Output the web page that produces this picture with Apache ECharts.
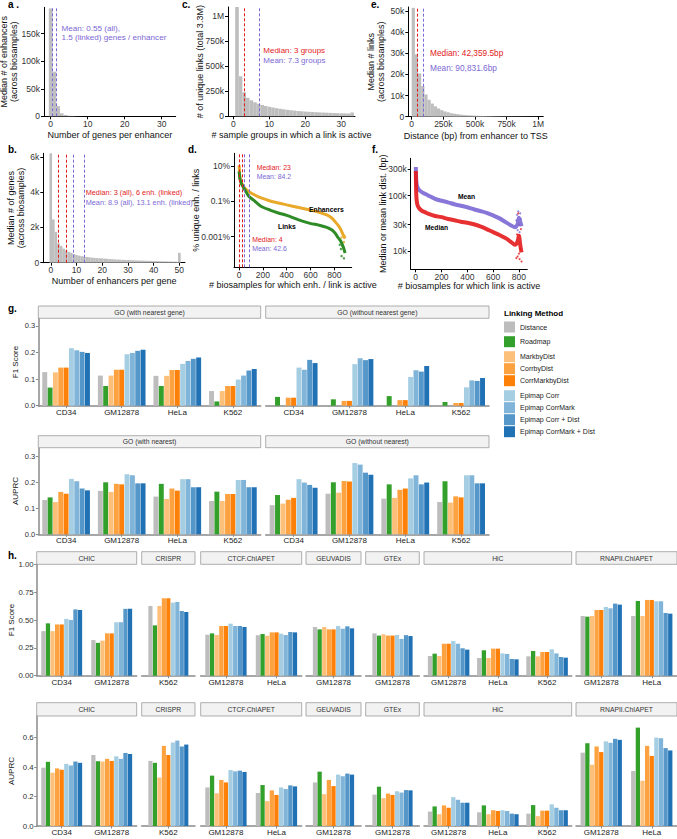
<!DOCTYPE html>
<html>
<head>
<meta charset="utf-8">
<script src="https://cdn.jsdelivr.net/npm/echarts@6/dist/echarts.min.js"></script>
<style>
  html, body { margin: 0; padding: 0; background: #fff; }
  #chart { width: 677px; height: 839px; }
</style>
</head>
<body>
<div id="chart"></div>
<script>
// ---------------- data: panels a-f ----------------
// a: number of genes per enhancer = index
const aEnhancers = [196000, 81000, 18500, 5400, 2400, 1000, 450, 200, 100, 50];
const aMeanLines = [0.55, 1.5];
// b: number of enhancers per gene = index (0..50)
const bGenes = [6200, 2450, 1750, 1100, 950, 800, 700, 620, 555, 490, 435, 400, 370, 345, 325, 305, 288, 273, 260, 252,
  245, 232, 220, 208, 197, 187, 178, 170, 162, 155, 150, 143, 137, 131, 126, 121, 116, 111, 106, 100,
  95, 90, 85, 80, 76, 72, 68, 64, 60, 56, 560];
const bMedianLines = [3, 6];
const bMeanLines = [8.9, 13.1];
// c: sample groups = index + 1
const cLinks = [1150000, 400000, 240000, 185000, 160000, 140000, 125000, 113000, 103000, 95000, 88000, 81000, 75000,
  70000, 65000, 61000, 57000, 53000, 50000, 47000, 45000, 43000, 41000, 39000, 37000, 36000, 34000, 33000, 31000,
  30000, 29000, 28000, 38000];
const cMedian = 3, cMean = 7.3;
// e: distance bins (bp) and median # links
const eDistance = [12500, 37500, 62500, 87500, 112500, 137500, 162500, 187500, 212500, 237500, 262500, 287500, 312500,
  337500, 362500, 387500, 412500, 437500, 462500, 487500, 512500, 537500, 562500, 587500, 612500, 637500, 662500,
  687500, 712500, 737500, 762500, 787500, 812500, 837500, 862500, 887500, 912500, 937500, 962500, 987500];
const eLinks = [51500, 29500, 20500, 14500, 10500, 8000, 6200, 4900, 3900, 3100, 2500, 2100, 1700, 1400, 1200, 1000,
  850, 720, 620, 530, 460, 400, 350, 300, 260, 230, 200, 180, 160, 140, 120, 110, 100, 90, 80, 70, 60, 60, 50, 50];
const eMedian = 42359.5, eMean = 90831.6;
// d: # biosamples vs % unique
const dEnhancers = [[1, 11], [3, 6], [6, 3], [10, 2], [20, 1.1], [35, 0.75], [50, 0.55], [80, 0.36], [120, 0.25],
  [180, 0.16], [260, 0.105], [330, 0.08], [400, 0.063], [500, 0.045], [596, 0.032], [670, 0.024], [736, 0.017],
  [780, 0.011], [806, 0.007], [830, 0.0045], [850, 0.0028], [862, 0.0019], [875, 0.0012], [890, 0.0008]];
const dLinks = [[1, 5], [3, 3.5], [6, 2.2], [10, 1.6], [20, 1.0], [35, 0.65], [50, 0.44], [80, 0.2], [120, 0.12],
  [180, 0.055], [260, 0.032], [330, 0.022], [400, 0.016], [500, 0.009], [596, 0.0057], [670, 0.0045], [736, 0.0034],
  [780, 0.0024], [806, 0.0016], [830, 0.0009], [850, 0.0006], [862, 0.00042], [875, 0.00025], [890, 0.00012]];
const dLinkTail = [[845, 0.00035], [855, 0.0002], [860, 0.00008], [870, 0.0003], [880, 0.00006], [885, 0.00015]];
const dEnhTail = [[860, 0.0009], [870, 0.0015], [880, 0.0005], [885, 0.0011]];
const dEnhMedian = 23, dEnhMean = 84.2, dLinkMedian = 4, dLinkMean = 42.6;
// f: # biosamples vs link distance (bp)
const fMean = [[1, 330000], [3, 220000], [6, 170000], [12, 145000], [25, 128000], [50, 115000], [75, 107000],
  [100, 100000], [150, 88000], [200, 81000], [250, 76000], [300, 70000], [350, 66000], [400, 62000], [450, 57000],
  [500, 53000], [550, 49000], [600, 44000], [650, 39000], [700, 33000], [740, 29000], [770, 27000], [790, 31000],
  [800, 40000], [810, 34000], [820, 28000]];
const fMedian = [[1, 280000], [3, 130000], [6, 90000], [12, 70000], [25, 60000], [50, 53000], [75, 50000],
  [100, 47000], [150, 43000], [200, 41000], [250, 38000], [300, 36000], [350, 34000], [400, 32500], [450, 30500],
  [500, 28000], [550, 25000], [600, 22000], [650, 19500], [700, 17000], [740, 14500], [770, 13000], [790, 15000],
  [800, 19000], [810, 13000], [820, 9500]];
const fMeanTail = [[780, 36000], [785, 45000], [790, 24000], [795, 52000], [800, 30000], [805, 22000], [810, 48000], [815, 38000]];
const fMedianTail = [[780, 7500], [785, 20000], [790, 8000], [795, 48000], [800, 9000], [800, 30000], [805, 7200],
  [810, 11000], [815, 25000], [820, 6500]];

// ---------------- data: panels g-h ----------------
const methods = ['Distance', 'Roadmap', 'MarkbyDist', 'CorrbyDist', 'CorrMarkbyDist',
  'Epimap Corr', 'Epimap CorrMark', 'Epimap Corr + Dist', 'Epimap CorrMark + Dist'];
const goCells = ['CD34', 'GM12878', 'HeLa', 'K562'];
// rows = cell lines, columns = methods
const goF1WithNearest = [
  [0.126, 0.068, 0.125, 0.143, 0.143, 0.216, 0.208, 0.202, 0.198],
  [0.113, 0.074, 0.113, 0.135, 0.135, 0.193, 0.198, 0.206, 0.210],
  [0.112, 0.074, 0.112, 0.134, 0.134, 0.157, 0.168, 0.176, 0.181],
  [0.055, 0.016, 0.055, 0.074, 0.074, 0.098, 0.113, 0.132, 0.138]];
const goF1WithoutNearest = [
  [null, 0.033, null, 0.030, 0.030, 0.143, 0.135, 0.172, 0.160],
  [null, 0.024, null, 0.018, 0.018, 0.156, 0.178, 0.171, 0.175],
  [null, 0.036, null, 0.021, 0.021, 0.108, 0.133, 0.128, 0.149],
  [null, 0.014, null, 0.010, 0.010, 0.069, 0.095, 0.093, 0.104]];
const goAuprcWithNearest = [
  [0.132, 0.142, 0.124, 0.163, 0.156, 0.213, 0.204, 0.176, 0.169],
  [0.167, 0.200, 0.163, 0.194, 0.192, 0.231, 0.227, 0.196, 0.196],
  [0.145, 0.194, 0.136, 0.176, 0.168, 0.212, 0.212, 0.181, 0.181],
  [0.128, 0.164, 0.128, 0.155, 0.155, 0.209, 0.209, 0.181, 0.181]];
const goAuprcWithoutNearest = [
  [0.112, 0.151, 0.118, 0.133, 0.140, 0.212, 0.199, 0.190, 0.179],
  [0.156, 0.200, 0.160, 0.205, 0.203, 0.274, 0.268, 0.237, 0.229],
  [0.137, 0.192, 0.140, 0.171, 0.176, 0.215, 0.227, 0.192, 0.199],
  [0.124, 0.204, 0.122, 0.146, 0.142, 0.227, 0.227, 0.196, 0.196]];

const hSets = ['CHIC', 'CRISPR', 'CTCF.ChIAPET', 'GEUVADIS', 'GTEx', 'HiC', 'RNAPII.ChIAPET'];
const hCells = [['CD34', 'GM12878'], ['K562'], ['GM12878', 'HeLa'], ['GM12878'], ['GM12878'],
  ['GM12878', 'HeLa', 'K562'], ['GM12878', 'HeLa']];
const f1CHIC = [[0.40, 0.47, 0.40, 0.46, 0.46, 0.51, 0.50, 0.595, 0.59], [0.32, 0.295, 0.315, 0.38, 0.38, 0.48, 0.48, 0.60, 0.60]];
const f1CRISPR = [[0.626, 0.452, 0.626, 0.695, 0.695, 0.656, 0.662, 0.581, 0.572]];
const f1CTCF = [[0.368, 0.38, 0.365, 0.446, 0.446, 0.467, 0.446, 0.446, 0.437], [0.362, 0.374, 0.359, 0.389, 0.389, 0.377, 0.365, 0.392, 0.389]];
const f1GEUVADIS = [[0.437, 0.416, 0.437, 0.416, 0.416, 0.446, 0.422, 0.443, 0.425]];
const f1GTEx = [[0.38, 0.36, 0.372, 0.36, 0.36, 0.366, 0.33, 0.364, 0.356]];
const f1HiC = [[0.177, 0.198, 0.177, 0.287, 0.287, 0.311, 0.287, 0.246, 0.234],
  [0.159, 0.228, 0.159, 0.243, 0.243, 0.200, 0.195, 0.150, 0.147],
  [0.174, 0.222, 0.174, 0.213, 0.213, 0.237, 0.200, 0.168, 0.162]];
const f1RNAPII = [[0.536, 0.53, 0.536, 0.59, 0.59, 0.617, 0.605, 0.647, 0.638], [0.536, 0.671, 0.536, 0.68, 0.68, 0.668, 0.668, 0.563, 0.557]];
const auprcCHIC = [[0.396, 0.436, 0.362, 0.391, 0.382, 0.422, 0.411, 0.438, 0.429], [0.482, 0.44, 0.438, 0.456, 0.442, 0.473, 0.456, 0.496, 0.489]];
const auprcCRISPR = [[0.442, 0.429, 0.329, 0.544, 0.482, 0.567, 0.58, 0.54, 0.553]];
const auprcCTCF = [[0.262, 0.342, 0.222, 0.313, 0.296, 0.38, 0.371, 0.376, 0.367], [0.224, 0.278, 0.169, 0.242, 0.211, 0.262, 0.251, 0.276, 0.269]];
const auprcGEUVADIS = [[0.296, 0.369, 0.216, 0.313, 0.271, 0.349, 0.338, 0.356, 0.349]];
const auprcGTEx = [[0.213, 0.267, 0.189, 0.22, 0.211, 0.236, 0.227, 0.244, 0.242]];
const auprcHiC = [[0.098, 0.133, 0.08, 0.14, 0.124, 0.196, 0.178, 0.158, 0.158],
  [0.093, 0.14, 0.08, 0.107, 0.102, 0.107, 0.102, 0.084, 0.08],
  [0.084, 0.142, 0.067, 0.104, 0.104, 0.147, 0.124, 0.107, 0.107]];
const auprcRNAPII = [[0.498, 0.562, 0.416, 0.54, 0.502, 0.575, 0.565, 0.592, 0.585], [0.373, 0.668, 0.307, 0.544, 0.476, 0.60, 0.596, 0.529, 0.513]];

// ---------------- styling ----------------
const FONT = "'Liberation Sans', Arial, Helvetica, sans-serif";
const RED = '#e31a1c', PURPLE = '#7b68d4', GREY = '#bebebe';
const GOLD = '#e9aa2b', GREEN = '#2e8b25';
const methodColors = ['#bdbdbd', '#33a02c', '#fdc07a', '#fca240', '#fd8008', '#a6cee3', '#80b4d8', '#5597c9', '#2171b5'];

const grids = [], xAxis = [], yAxis = [], series = [], graphics = [];

function addGrid(left, top, width, height) {
  grids.push({ left, top, width, height, containLabel: false, outerBoundsMode: 'none' });
  return grids.length - 1;
}

function numAxis(gi, o, isX) {
  return {
    type: o.log ? 'log' : 'value', logBase: 10, gridIndex: gi, min: o.min, max: o.max,
    axisLine: { show: true, onZero: false, lineStyle: { color: '#000', width: 1 } },
    axisTick: { show: true, length: 3, customValues: o.ticks, lineStyle: { color: '#000' } },
    axisLabel: { show: true, customValues: o.ticks, formatter: o.fmt, fontSize: 8.5, color: '#333', fontFamily: FONT, margin: isX ? 3 : 4 },
    splitLine: { show: false },
    name: o.name, nameLocation: 'middle', nameGap: o.gap, nameMoveOverlap: false,
    nameTextStyle: { fontSize: 9, color: '#111', fontFamily: FONT, lineHeight: 10 }
  };
}

function vlines(list) {
  return {
    silent: true, symbol: ['none', 'none'], label: { show: false }, animation: false,
    emphasis: { disabled: true },
    data: list.map(([x, c]) => ({ xAxis: x, lineStyle: { color: c, type: [3, 2], width: 1 } }))
  };
}

function txt(x, y, s, color, size, weight, align) {
  graphics.push({
    type: 'text', x, y, silent: true, z: 50,
    style: { text: s, fill: color || '#000', fontSize: size || 8.5, fontFamily: FONT, fontWeight: weight || 'normal',
      verticalAlign: 'middle', align: align || 'left', lineHeight: (size || 8.5) + 1.8 }
  });
}

const kFmt = v => v === 0 ? '0' : (v >= 1000000 ? (v / 1000000) + 'M' : (v / 1000) + 'k');

function histPanel(box, xs, ys, bw, xo, yo, lines) {
  const gi = addGrid(...box);
  xAxis.push(numAxis(gi, xo, true));
  yAxis.push(numAxis(gi, yo, false));
  series.push({
    type: 'bar', xAxisIndex: gi, yAxisIndex: gi, data: xs.map((x, i) => [x, ys[i]]), barWidth: bw,
    itemStyle: { color: GREY }, clip: true, silent: true, markLine: vlines(lines)
  });
  return gi;
}

// a
histPanel([44, 7.3, 131.7, 109], aEnhancers.map((v, i) => i), aEnhancers, 3.7,
  { min: -1.8, max: 33.8, ticks: [0, 10, 20, 30], name: 'Number of genes per enhancer', gap: 14 },
  { min: 0, max: 198000, ticks: [0, 50000, 100000, 150000], fmt: kFmt, name: 'Median # of enhancers\n(across biosamples)', gap: 25 },
  aMeanLines.map(x => [x, PURPLE]));
// b
histPanel([43.3, 153.3, 141.7, 109.4], bGenes.map((v, i) => i), bGenes, 2.6,
  { min: -2.9, max: 52.2, ticks: [0, 10, 20, 30, 40, 50], name: 'Number of enhancers per gene', gap: 13 },
  { min: 0, max: 6200, ticks: [0, 2000, 4000, 6000], fmt: kFmt, name: 'Median # of genes\n(across biosamples)', gap: 17 },
  bMedianLines.map(x => [x, RED]).concat(bMeanLines.map(x => [x, PURPLE])));
// c
histPanel([228, 7, 127, 109.3], cLinks.map((v, i) => i + 1), cLinks, 3.6,
  { min: -1.5, max: 33.8, ticks: [0, 10, 20, 30], name: '# sample groups in which a link is active', gap: 14 },
  { min: 0, max: 1093000, ticks: [0, 250000, 500000, 750000, 1000000], fmt: kFmt, name: '# of unique links (total 3.3M)', gap: 23 },
  [[cMedian, RED], [cMean, PURPLE]]);
// e
histPanel([408.3, 7, 135, 109.7], eDistance, eLinks, 3.2,
  { min: -27000, max: 1040000, ticks: [0, 250000, 500000, 750000, 1000000], fmt: kFmt, name: 'Distance (bp) from enhancer to TSS', gap: 14 },
  { min: 0, max: 51900, ticks: [0, 10000, 20000, 30000, 40000, 50000], fmt: kFmt, name: 'Median # links\n(across biosamples)', gap: 22 },
  [[eMedian, RED], [eMean, PURPLE]]);

// d
{
  const gi = addGrid(234, 153.3, 117.7, 114);
  xAxis.push(numAxis(gi, { min: -42, max: 945, ticks: [0, 200, 400, 600, 800], name: '# biosamples for which enh. / link is active', gap: 13 }, true));
  yAxis.push(numAxis(gi, { log: true, min: 1.86e-5, max: 52, ticks: [0.001, 0.1, 10], fmt: v => v + '%', name: '% unique enh. / links', gap: 33 }, false));
  series.push({ type: 'line', xAxisIndex: gi, yAxisIndex: gi, data: dEnhancers, showSymbol: false, smooth: 0.3, silent: true,
    lineStyle: { color: GOLD, width: 3 }, markLine: vlines([[dEnhMedian, RED], [dEnhMean, PURPLE]]) });
  series.push({ type: 'line', xAxisIndex: gi, yAxisIndex: gi, data: dLinks, showSymbol: false, smooth: 0.3, silent: true,
    lineStyle: { color: GREEN, width: 3 }, markLine: vlines([[dLinkMedian, RED], [dLinkMean, PURPLE]]) });
  series.push({ type: 'scatter', xAxisIndex: gi, yAxisIndex: gi, data: dEnhTail, symbolSize: 2.5, silent: true, itemStyle: { color: GOLD } });
  series.push({ type: 'scatter', xAxisIndex: gi, yAxisIndex: gi, data: dLinkTail, symbolSize: 2.5, silent: true, itemStyle: { color: GREEN } });
}
// f
{
  const gi = addGrid(410.7, 158.3, 116.6, 111);
  xAxis.push(numAxis(gi, { min: -38.8, max: 865, ticks: [0, 200, 400, 600, 800], name: '# biosamples for which link is active', gap: 12 }, true));
  yAxis.push(numAxis(gi, { log: true, min: 4700, max: 473000, ticks: [10000, 30000, 100000, 300000], fmt: kFmt, name: 'Median or mean link dist. (bp)', gap: 23 }, false));
  series.push({ type: 'line', xAxisIndex: gi, yAxisIndex: gi, data: fMean, showSymbol: false, smooth: 0.3, silent: true,
    lineStyle: { color: PURPLE, width: 4, opacity: 0.9 } });
  series.push({ type: 'line', xAxisIndex: gi, yAxisIndex: gi, data: fMedian, showSymbol: false, smooth: 0.3, silent: true,
    lineStyle: { color: RED, width: 4, opacity: 0.9 } });
  series.push({ type: 'scatter', xAxisIndex: gi, yAxisIndex: gi, data: fMeanTail, symbolSize: 2, silent: true, itemStyle: { color: PURPLE } });
  series.push({ type: 'scatter', xAxisIndex: gi, yAxisIndex: gi, data: fMedianTail, symbolSize: 2, silent: true, itemStyle: { color: RED } });
}

// annotations a-f
txt(61.5, 33, 'Mean: 0.55 (all),\n1.5 (linked) genes / enhancer', PURPLE, 8.1);
txt(85.7, 192.3, 'Median: 3 (all), 6 enh. (linked)', RED, 7.3);
txt(85.7, 202, 'Mean: 8.9 (all), 13.1 enh. (linked)', PURPLE, 7.3);
txt(263.3, 50, 'Median: 3 groups', RED, 8);
txt(263.3, 60, 'Mean: 7.3 groups', PURPLE, 8);
txt(430, 53.3, 'Median: 42,359.5bp', RED, 8.3);
txt(430, 68.3, 'Mean: 90,831.6bp', PURPLE, 8.3);
txt(256.7, 167.3, 'Median: 23', RED, 6.9);
txt(256.7, 176, 'Mean: 84.2', PURPLE, 6.9);
txt(252.3, 239.3, 'Median: 4', RED, 6.9);
txt(252.3, 248.3, 'Mean: 42.6', PURPLE, 6.9);
txt(309, 209.3, 'Enhancers', '#000', 6.8, 'bold');
txt(278, 226, 'Links', '#000', 6.8, 'bold');
txt(458, 196, 'Mean', '#000', 6.7, 'bold');
txt(425, 227.7, 'Median', '#000', 6.7, 'bold');
// panel letters
txt(8, 4, 'a .', '#000', 10, 'bold');
txt(8, 149, 'b.', '#000', 10, 'bold');
txt(182, 4, 'c.', '#000', 10, 'bold');
txt(188, 149, 'd.', '#000', 10, 'bold');
txt(371, 4, 'e.', '#000', 10, 'bold');
txt(372, 149, 'f.', '#000', 10, 'bold');
txt(8, 308, 'g.', '#000', 10, 'bold');
txt(8, 555, 'h.', '#000', 10, 'bold');

// ---------------- facetted bar panels ----------------
function strip(x, y, w, h, label) {
  graphics.push({ type: 'rect', silent: true, z: 40, shape: { x, y, width: w, height: h },
    style: { fill: '#f2f2f2', stroke: '#9a9a9a', lineWidth: 0.8 } });
  txt(x + w / 2, y + h / 2, label, '#333', 6.8, 'normal', 'center');
}

function facetPanel(box, stripH, label, cells, rows, yo, first, yName, yGap, yFont) {
  const [left, top, width, height] = box;
  const gi = addGrid(left, top, width, height);
  strip(left, top - stripH, width, stripH, label);
  const n = cells.length;
  const catGap = ((1 - 0.9 * n / (n + 0.2)) * 100).toFixed(1) + '%';
  xAxis.push({
    type: 'category', gridIndex: gi, data: cells,
    axisLine: { show: true, lineStyle: { color: '#8a8a8a', width: 1.5 } },
    axisTick: { show: true, length: 2.5, alignWithLabel: true, lineStyle: { color: '#8a8a8a' } },
    axisLabel: { interval: 0, fontSize: 8, color: '#222', fontFamily: FONT, margin: 2.5 }
  });
  yAxis.push({
    type: 'value', gridIndex: gi, min: 0, max: yo.max,
    axisLine: { show: first, onZero: false, lineStyle: { color: '#8a8a8a', width: 1.5 } },
    axisTick: { show: first, length: 2.5, customValues: yo.ticks, lineStyle: { color: '#8a8a8a' } },
    axisLabel: { show: first, customValues: yo.ticks, formatter: yo.fmt, fontSize: yFont, color: '#333', fontFamily: FONT, margin: 3 },
    splitLine: { show: false },
    name: first ? yName : '', nameLocation: 'middle', nameGap: yGap, nameMoveOverlap: false,
    nameTextStyle: { fontSize: 8, color: '#111', fontFamily: FONT }
  });
  methods.forEach((m, k) => {
    series.push({
      type: 'bar', name: m, xAxisIndex: gi, yAxisIndex: gi, data: rows.map(r => r[k]),
      itemStyle: { color: methodColors[k] }, barGap: '8%', barCategoryGap: catGap, silent: true
    });
  });
}

// g
const gCols = [[38.3, 222.4], [265.7, 223.3]];
const fmt1 = v => v.toFixed(1);
const gTopY = { max: 0.328, ticks: [0, 0.1, 0.2, 0.3], fmt: fmt1 };
const gBotY = { max: 0.333, ticks: [0, 0.1, 0.2, 0.3], fmt: fmt1 };
facetPanel([gCols[0][0], 318.3, gCols[0][1], 87.4], 12.3, 'GO (with nearest gene)', goCells, goF1WithNearest, gTopY, true, 'F1 Score', 19, 7.5);
facetPanel([gCols[1][0], 318.3, gCols[1][1], 87.4], 12.3, 'GO (without nearest gene)', goCells, goF1WithoutNearest, gTopY, false, '', 0, 7.5);
facetPanel([gCols[0][0], 447.7, gCols[0][1], 86.6], 12, 'GO (with nearest)', goCells, goAuprcWithNearest, gBotY, true, 'AUPRC', 19, 7.5);
facetPanel([gCols[1][0], 447.7, gCols[1][1], 86.6], 12, 'GO (without nearest)', goCells, goAuprcWithoutNearest, gBotY, false, '', 0, 7.5);

// h
const hCols = [[36.7, 100], [141.7, 53.3], [200.7, 101], [306, 55], [365.7, 53.6], [424, 147.7], [576, 101]];
const hF1 = [f1CHIC, f1CRISPR, f1CTCF, f1GEUVADIS, f1GTEx, f1HiC, f1RNAPII];
const hAuprc = [auprcCHIC, auprcCRISPR, auprcCTCF, auprcGEUVADIS, auprcGTEx, auprcHiC, auprcRNAPII];
const fmt2 = v => v.toFixed(2);
hSets.forEach((s, i) => {
  facetPanel([hCols[i][0], 564.3, hCols[i][1], 111.4], 12.6, s, hCells[i], hF1[i],
    { max: 1.0, ticks: [0, 0.25, 0.5, 0.75, 1.0], fmt: fmt2 }, i === 0, 'F1 Score', 21, 7.8);
  facetPanel([hCols[i][0], 716, hCols[i][1], 110], 13.3, s, hCells[i], hAuprc[i],
    { max: 0.747, ticks: [0, 0.2, 0.4, 0.6], fmt: fmt1 }, i === 0, 'AUPRC', 21, 7.8);
});

// legend
txt(504, 313.3, 'Linking Method', '#000', 8, 'bold');
const legendGroups = [[methods.slice(0, 1), 321.5], [methods.slice(1, 2), 336.2], [methods.slice(2, 5), 351.2], [methods.slice(5, 9), 390.2]];
const legends = legendGroups.map(([names, top]) => ({
  data: names, orient: 'vertical', left: 504, top, itemWidth: 11, itemHeight: 11, itemGap: 1, padding: 0,
  icon: 'rect', selectedMode: false, textStyle: { fontSize: 7, color: '#222', fontFamily: FONT }
}));

const chart = echarts.init(document.getElementById('chart'), null, { renderer: 'svg', width: 677, height: 839 });
chart.setOption({
  animation: false,
  backgroundColor: '#fff',
  textStyle: { fontFamily: FONT },
  grid: grids,
  xAxis,
  yAxis,
  legend: legends,
  series,
  graphic: { elements: graphics }
});
</script>
</body>
</html>
